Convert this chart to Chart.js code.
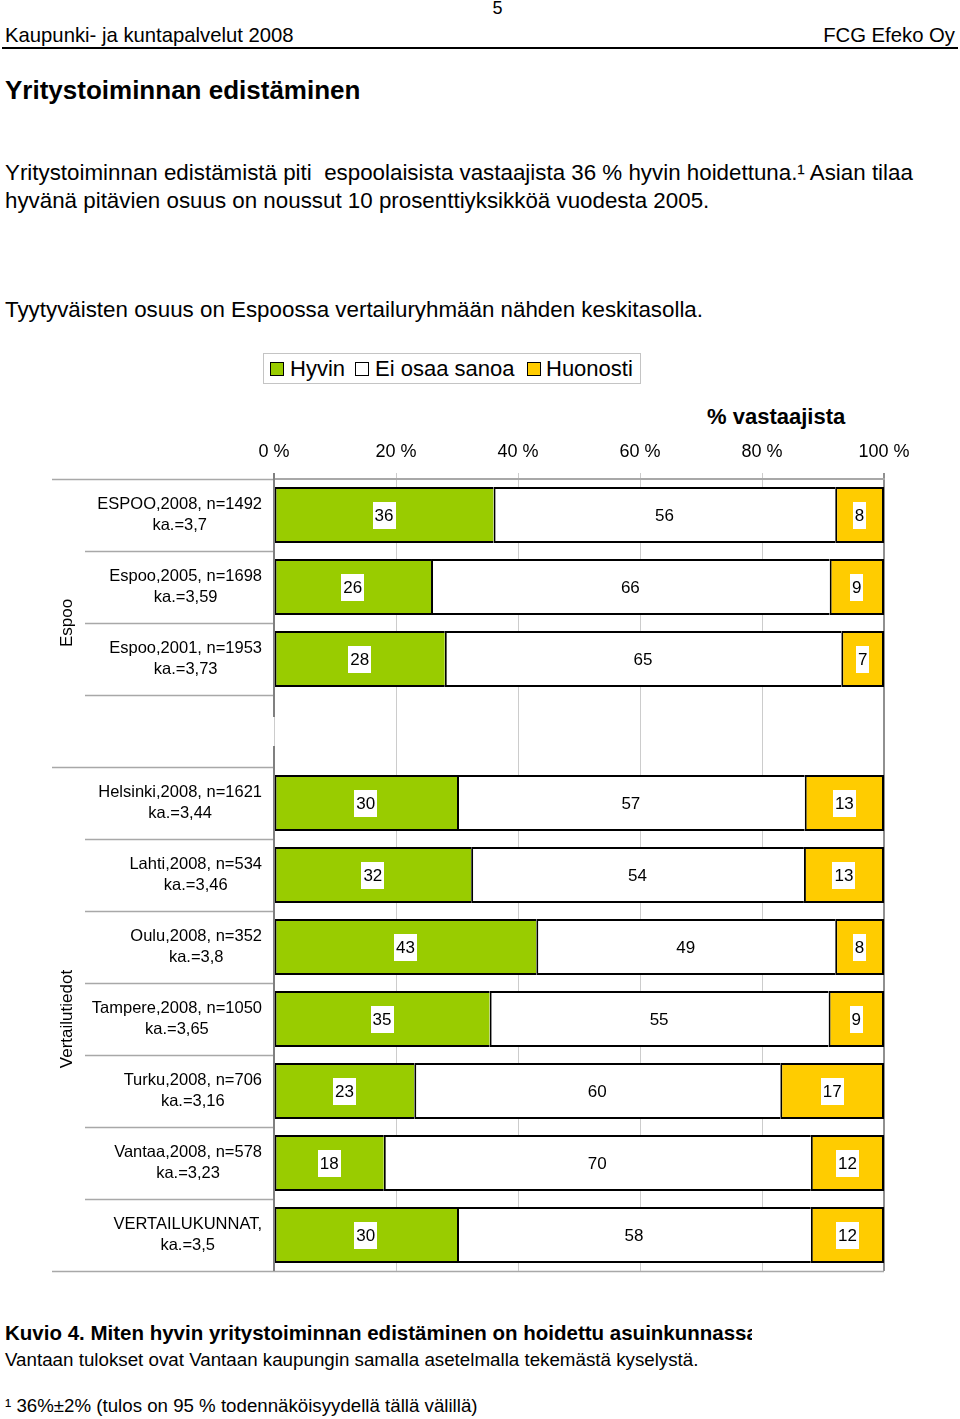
<!DOCTYPE html>
<html><head><meta charset="utf-8">
<script src="https://cdn.jsdelivr.net/npm/chart.js@4/dist/chart.umd.min.js"></script>
<style>
html,body{margin:0;padding:0;background:#fff}
body{width:960px;height:1419px;position:relative;overflow:hidden;font-family:"Liberation Sans",Arial,Helvetica,sans-serif;color:#000}
.t{position:absolute;white-space:pre;line-height:1}
.sq{position:absolute;width:12px;height:12px;border:1px solid #000}
#chartBox{position:absolute;left:0;top:429px;width:960px;height:860px}
</style></head><body>
<div class="t" style="left:0;width:995px;text-align:center;top:-1px;font-size:18px">5</div>
<div class="t" style="left:5px;top:25px;font-size:20.3px">Kaupunki- ja kuntapalvelut 2008</div>
<div class="t" style="right:5px;top:25px;font-size:20.3px">FCG Efeko Oy</div>
<div style="position:absolute;left:2px;width:956px;top:47px;height:2px;background:#000"></div>
<div class="t" style="left:5px;top:77px;font-size:26px;font-weight:bold">Yritystoiminnan edistäminen</div>
<div class="t" style="left:5px;top:162px;font-size:22.35px">Yritystoiminnan edistämistä piti  espoolaisista vastaajista 36 % hyvin hoidettuna.¹ Asian tilaa</div>
<div class="t" style="left:5px;top:190px;font-size:22.35px">hyvänä pitävien osuus on noussut 10 prosenttiyksikköä vuodesta 2005.</div>
<div class="t" style="left:5px;top:299px;font-size:22.35px">Tyytyväisten osuus on Espoossa vertailuryhmään nähden keskitasolla.</div>

<div style="position:absolute;left:263px;top:353px;width:376px;height:29px;border:1px solid #c4c4c4"></div>
<div class="sq" style="left:270px;top:362px;background:#99CC00"></div>
<div class="t" style="left:290px;top:358px;font-size:22px">Hyvin</div>
<div class="sq" style="left:355px;top:362px;background:#fff"></div>
<div class="t" style="left:375px;top:358px;font-size:22px">Ei osaa sanoa</div>
<div class="sq" style="left:527px;top:362px;background:#FFCC00"></div>
<div class="t" style="left:546px;top:358px;font-size:22px">Huonosti</div>

<div class="t" style="left:707px;top:406px;font-size:22px;font-weight:bold">% vastaajista</div>

<div id="chartBox"><canvas id="c" width="960" height="860"></canvas></div>

<div class="t" style="left:5px;top:1323px;font-size:20.5px;font-weight:bold;width:747px;overflow:hidden">Kuvio 4. Miten hyvin yritystoiminnan edistäminen on hoidettu asuinkunnassa</div>
<div class="t" style="left:5px;top:1351px;font-size:18.75px">Vantaan tulokset ovat Vantaan kaupungin samalla asetelmalla tekemästä kyselystä.</div>
<div class="t" style="left:5px;top:1397px;font-size:18.7px">¹ 36%±2% (tulos on 95 % todennäköisyydellä tällä välillä)</div>

<script>
// ---- data ----
const categories = [
  ['ESPOO,2008, n=1492', 'ka.=3,7'],
  ['Espoo,2005, n=1698', 'ka.=3,59'],
  ['Espoo,2001, n=1953', 'ka.=3,73'],
  '',
  ['Helsinki,2008, n=1621', 'ka.=3,44'],
  ['Lahti,2008, n=534', 'ka.=3,46'],
  ['Oulu,2008, n=352', 'ka.=3,8'],
  ['Tampere,2008, n=1050', 'ka.=3,65'],
  ['Turku,2008, n=706', 'ka.=3,16'],
  ['Vantaa,2008, n=578', 'ka.=3,23'],
  ['VERTAILUKUNNAT,', 'ka.=3,5']
];
const hyvin    = [36, 26, 28, null, 30, 32, 43, 35, 23, 18, 30];
const eiOsaa   = [56, 66, 65, null, 57, 54, 49, 55, 60, 70, 58];
const huonosti = [8, 9, 7, null, 13, 13, 8, 9, 17, 12, 12];
const seriesNames = ['Hyvin', 'Ei osaa sanoa', 'Huonosti'];
const groups = [
  { label: 'Espoo', from: 0, to: 3 },
  { label: 'Vertailutiedot', from: 4, to: 10 }
];
const xTickValues = [0, 20, 40, 60, 80, 100];

// 100 % stacked: share of each row total
const totals = categories.map((_, i) =>
  hyvin[i] == null ? null : hyvin[i] + eiOsaa[i] + huonosti[i]);
const share = arr => arr.map((v, i) => v == null ? null : v / totals[i] * 100);

const FONT = '"Liberation Sans", Arial, sans-serif';
const LINE = '#a8a8a8';

const decorPlugin = {
  id: 'decor',
  afterDatasetsDraw(chart) {
    const ctx = chart.ctx;
    const raw = [hyvin, eiOsaa, huonosti];
    ctx.save();
    ctx.font = '17px ' + FONT;
    ctx.textAlign = 'center';
    ctx.textBaseline = 'middle';
    chart.data.datasets.forEach((ds, di) => {
      const meta = chart.getDatasetMeta(di);
      meta.data.forEach((bar, j) => {
        const v = raw[di][j];
        if (v == null) return;
        const p = bar.getProps(['x', 'y', 'base'], true);
        const cx = (p.x + p.base) / 2;
        const txt = String(v);
        if (di !== 1) {
          const w = ctx.measureText(txt).width + 4;
          ctx.fillStyle = '#fff';
          ctx.fillRect(Math.round(cx - w / 2), Math.round(p.y - 13.5), Math.round(w), 27);
        }
        ctx.fillStyle = '#000';
        ctx.fillText(txt, cx, p.y + 1);
      });
    });
    ctx.restore();
  },
  afterDraw(chart) {
    const ctx = chart.ctx;
    const ys = chart.scales.y;
    const area = chart.chartArea;
    const n = categories.length;
    const step = (ys.getPixelForValue(1) - ys.getPixelForValue(0));
    const groupEdges = new Set();
    groups.forEach(g => { groupEdges.add(g.from); });
    groupEdges.add(n);
    ctx.save();
    // separators left of the plot
    ctx.strokeStyle = LINE;
    ctx.lineWidth = 1.5;
    for (let b = 0; b <= n; b++) {
      const y = Math.round(ys.getPixelForValue(b) - step / 2) + 0.5;
      const x0 = groupEdges.has(b) ? 52 : 85;
      const x1 = b === n ? area.right : area.left;
      ctx.beginPath(); ctx.moveTo(x0, y); ctx.lineTo(x1, y); ctx.stroke();
    }
    // left axis line with a break in the blank row
    const blank = categories.findIndex(c => c === '');
    const by = ys.getPixelForValue(blank);
    ctx.strokeStyle = '#808080';
    ctx.lineWidth = 2;
    ctx.beginPath();
    ctx.moveTo(area.left, area.top - 6); ctx.lineTo(area.left, by - 14);
    ctx.moveTo(area.left, by + 15); ctx.lineTo(area.left, area.bottom);
    ctx.stroke();
    // category labels: block right aligned, lines centred
    ctx.font = '16.5px ' + FONT;
    ctx.fillStyle = '#000';
    ctx.textAlign = 'center';
    ctx.textBaseline = 'middle';
    categories.forEach((lab, i) => {
      if (!Array.isArray(lab)) return;
      const w = Math.max(...lab.map(s => ctx.measureText(s).width));
      const cx = area.left - 12 - w / 2;
      const cy = ys.getPixelForValue(i);
      lab.forEach((s, k) => {
        ctx.fillText(s, cx, cy + (k - (lab.length - 1) / 2) * 21);
      });
    });
    // group labels
    ctx.font = '17px ' + FONT;
    groups.forEach(g => {
      const cy = (ys.getPixelForValue(g.from) + ys.getPixelForValue(g.to)) / 2;
      ctx.save();
      ctx.translate(67, cy);
      ctx.rotate(-Math.PI / 2);
      ctx.fillText(g.label, 0, 0);
      ctx.restore();
    });
    ctx.restore();
  }
};

const common = {
  borderColor: '#000',
  borderSkipped: false,
  barPercentage: 0.78,
  categoryPercentage: 1.0
};

new Chart(document.getElementById('c'), {
  type: 'bar',
  data: {
    labels: categories,
    datasets: [
      Object.assign({ label: seriesNames[0], data: share(hyvin), backgroundColor: '#99CC00',
        borderWidth: { top: 2, bottom: 2, left: 2, right: 0 } }, common),
      Object.assign({ label: seriesNames[1], data: share(eiOsaa), backgroundColor: '#FFFFFF',
        borderWidth: { top: 2, bottom: 2, left: 2, right: 0 } }, common),
      Object.assign({ label: seriesNames[2], data: share(huonosti), backgroundColor: '#FFCC00',
        borderWidth: { top: 2, bottom: 2, left: 2, right: 2 } }, common)
    ]
  },
  options: {
    indexAxis: 'y',
    responsive: false,
    animation: false,
    devicePixelRatio: 1,
    layout: { padding: { left: 0, right: 76, top: 0, bottom: 18 } },
    plugins: { legend: { display: false }, tooltip: { enabled: false } },
    scales: {
      x: {
        position: 'top',
        stacked: true,
        min: 0, max: 100,
        afterFit: s => { s.height = 50; },
        afterBuildTicks: s => { s.ticks = xTickValues.map(v => ({ value: v })); },
        ticks: {
          padding: 10,
          color: '#000',
          font: { family: FONT, size: 18 },
          callback: v => v + ' %'
        },
        grid: {
          tickLength: 6,
          color: c => (c.tick && (c.tick.value === 100)) ? '#909090' : '#cccccc',
          lineWidth: c => (c.tick && c.tick.value === 100) ? 2 : 1
        },
        border: { display: true, color: LINE, width: 2 }
      },
      y: {
        stacked: true,
        afterFit: s => { s.width = 274; },
        ticks: { display: false },
        grid: { display: false, drawTicks: false },
        border: { display: false }
      }
    }
  },
  plugins: [decorPlugin]
});
</script>
</body></html>
